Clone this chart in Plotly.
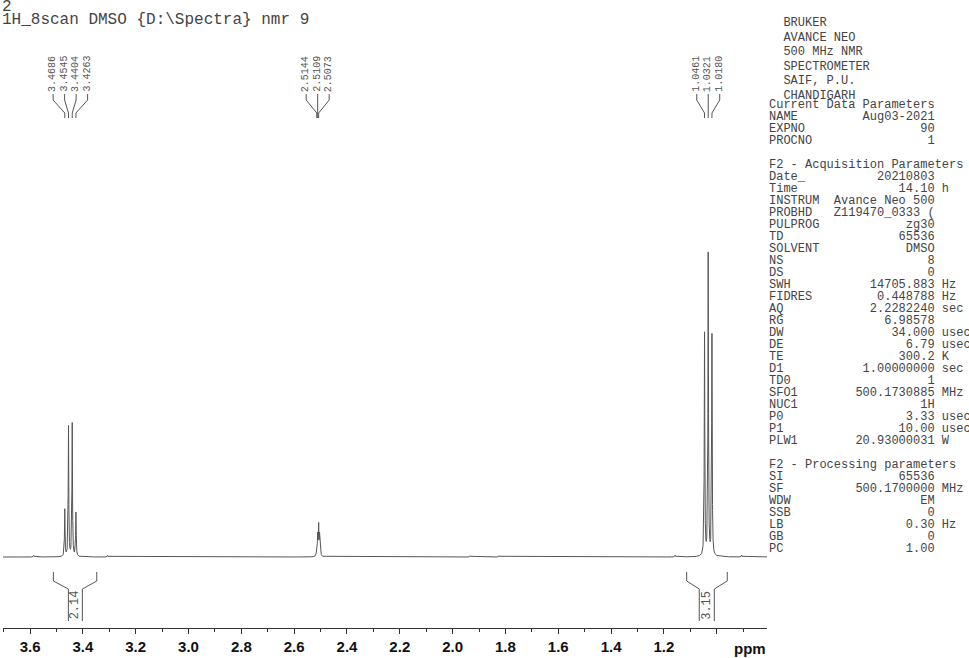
import numpy as np
import plotly.graph_objects as go

# ---------------- data ----------------
peak_ppm = [3.4686, 3.4545, 3.4404, 3.4263,
            2.5144, 2.5109, 2.5073, 2.5038, 2.5002,
            1.0461, 1.0321, 1.0180]
peak_height = [15.5, 43.1, 43.8, 14.5,
               3.3, 6.6, 9.9, 6.6, 3.3,
               73.7, 100.0, 72.7]
sat_ppm = [3.587, 3.307, 1.934, 1.824, 1.158, 0.906]
sat_height = [0.5, 0.5, 0.4, 0.4, 0.6, 0.6]
line_hwhm = 0.0012  # ppm

label_groups = [
    ["3.4686", "3.4545", "3.4404", "3.4263"],
    ["2.5144", "2.5109", "2.5073"],
    ["1.0461", "1.0321", "1.0180"],
]
integral_values = ["2.14", "3.15"]
integral_ranges = [(3.5118, 3.3475), (1.1136, 0.9600)]
integral_inner = [(3.455, 3.402), (1.066, 1.009)]

tick_vals = [3.6, 3.4, 3.2, 3.0, 2.8, 2.6, 2.4, 2.2, 2.0, 1.8, 1.6, 1.4, 1.2, 1.0]
tick_text = ["3.6", "3.4", "3.2", "3.0", "2.8", "2.6", "2.4", "2.2", "2.0", "1.8",
             "1.6", "1.4", "1.2", ""]

title_lines = ["2", "1H_8scan DMSO {D:\\Spectra} nmr 9"]
header_lines = ["BRUKER", "AVANCE NEO", "500 MHz NMR", "SPECTROMETER", "SAIF, P.U.", "CHANDIGARH"]
current_params = [("NAME", "Aug03-2021", ""), ("EXPNO", "90", ""), ("PROCNO", "1", "")]
acq_params = [
    ("Date_", "20210803", ""), ("Time", "14.10", "h"), ("INSTRUM", "Avance Neo 500", ""),
    ("PROBHD", "Z119470_0333 (", ""), ("PULPROG", "zg30", ""), ("TD", "65536", ""),
    ("SOLVENT", "DMSO", ""), ("NS", "8", ""), ("DS", "0", ""), ("SWH", "14705.883", "Hz"),
    ("FIDRES", "0.448788", "Hz"), ("AQ", "2.2282240", "sec"), ("RG", "6.98578", ""),
    ("DW", "34.000", "usec"), ("DE", "6.79", "usec"), ("TE", "300.2", "K"),
    ("D1", "1.00000000", "sec"), ("TD0", "1", ""), ("SFO1", "500.1730885", "MHz"),
    ("NUC1", "1H", ""), ("P0", "3.33", "usec"), ("P1", "10.00", "usec"),
    ("PLW1", "20.93000031", "W"),
]
proc_params = [("SI", "65536", ""), ("SF", "500.1700000", "MHz"), ("WDW", "EM", ""),
               ("SSB", "0", ""), ("LB", "0.30", "Hz"), ("GB", "0", ""), ("PC", "1.00", "")]

# ---------------- geometry ----------------
W, H = 969, 658
X0PX, X1PX = 3, 767
XR = [3.7025, 0.8095]
BASE_PX = 557
PX_PER_UNIT = 3.04


def px2ppm(px):
    return XR[0] + (px - X0PX) / (X1PX - X0PX) * (XR[1] - XR[0])


def ppm2px(p):
    return X0PX + (p - XR[0]) / (XR[1] - XR[0]) * (X1PX - X0PX)


def yp(px_y):
    return 1 - px_y / H


# ---------------- spectrum ----------------
x = np.arange(0.80, 3.71, 0.0002)
y = np.zeros_like(x)
for p, h in zip(peak_ppm + sat_ppm, peak_height + sat_height):
    y += h / (1 + ((x - p) / line_hwhm) ** 2)

fig = go.Figure()
fig.add_trace(go.Scatter(x=x, y=y, mode="lines", line=dict(color="#555555", width=1),
                         hoverinfo="skip", showlegend=False))

MONO = "Liberation Mono, Courier New, monospace"
SANS = "Liberation Sans, Arial, sans-serif"
TXT = "#444"
annotations = []
shapes = []

# title
annotations.append(dict(x=0, y=yp(7), xref="paper", yref="paper", text=title_lines[0],
                        showarrow=False, xanchor="left", yanchor="middle",
                        font=dict(family=MONO, size=16, color=TXT)))
annotations.append(dict(x=0, y=yp(20.5), xref="paper", yref="paper", text=title_lines[1],
                        showarrow=False, xanchor="left", yanchor="middle",
                        font=dict(family=MONO, size=16, color=TXT)))

# right panel
NB = "\u00a0"
PX_LEFT = 767.3


def fmt(label, value, unit):
    s = label + value.rjust(23 - len(label))
    if unit:
        s += " " + unit
    return s.replace(" ", NB)


panel = []
for i, t in enumerate(header_lines):
    panel.append((23 + 14.5 * i, NB * 2 + t))
panel.append((105, "Current Data Parameters".replace(" ", NB)))
yy = 117
for lab, val, u in current_params:
    panel.append((yy, fmt(lab, val, u)))
    yy += 12
panel.append((165, "F2 - Acquisition Parameters".replace(" ", NB)))
yy = 177
for lab, val, u in acq_params:
    panel.append((yy, fmt(lab, val, u)))
    yy += 12
panel.append((465, "F2 - Processing parameters".replace(" ", NB)))
yy = 477
for lab, val, u in proc_params:
    panel.append((yy, fmt(lab, val, u)))
    yy += 12
for ypx, t in panel:
    annotations.append(dict(x=PX_LEFT / W, y=yp(ypx), xref="paper", yref="paper", text=t,
                            showarrow=False, xanchor="left", yanchor="middle",
                            font=dict(family=MONO, size=12, color=TXT)))

# peak labels
SPACING = 11.5
for grp in label_groups:
    vals = [float(v) for v in grp]
    cpx = np.mean([ppm2px(v) for v in vals])
    n = len(grp)
    for k, lab in enumerate(grp):
        lx = cpx + (k - (n - 1) / 2) * SPACING
        annotations.append(dict(x=lx / W, y=yp(74), xref="paper", yref="paper", text=lab,
                                showarrow=False, textangle=-90, xanchor="center",
                                yanchor="middle",
                                font=dict(family=MONO, size=10, color="#555")))
        lp = px2ppm(lx)
        pv = float(lab)
        path = (f"M {lp},{yp(94)} L {lp},{yp(100)} L {pv},{yp(113)} L {pv},{yp(118)}")
        shapes.append(dict(type="path", xref="x", yref="paper", path=path,
                           line=dict(color="#555", width=1)))

# integrals
for (a, b), (ia, ib), lab in zip(integral_ranges, integral_inner, integral_values):
    p1 = f"M {a},{yp(572)} L {a},{yp(581)} L {ia},{yp(589)} L {ia},{yp(621)}"
    p2 = f"M {b},{yp(572)} L {b},{yp(581)} L {ib},{yp(589)} L {ib},{yp(621)}"
    for p in (p1, p2):
        shapes.append(dict(type="path", xref="x", yref="paper", path=p,
                           line=dict(color="#555", width=1)))
    annotations.append(dict(x=(ia + ib) / 2, y=yp(605), xref="x", yref="paper", text=lab,
                            showarrow=False, textangle=-90, xanchor="center", yanchor="middle",
                            font=dict(family=MONO, size=12, color="#555")))

annotations.append(dict(x=750 / W, y=yp(648), xref="paper", yref="paper", text="<b>ppm</b>",
                        showarrow=False, xanchor="center", yanchor="middle",
                        font=dict(family=SANS, size=15, color="#111")))

yr = [-(H - BASE_PX) / PX_PER_UNIT, BASE_PX / PX_PER_UNIT]

fig.update_layout(
    width=W, height=H, autosize=False,
    margin=dict(l=0, r=0, t=0, b=0),
    paper_bgcolor="white", plot_bgcolor="white",
    xaxis=dict(domain=[X0PX / W, X1PX / W], range=XR, anchor="free", position=yp(627.7),
               showgrid=False, zeroline=False, showline=True, linecolor="#333", linewidth=1,
               ticks="outside", ticklen=5, tickcolor="#333", tickwidth=1,
               tickvals=tick_vals, ticktext=tick_text,
               tickfont=dict(family=SANS, size=15, color="#111", weight="bold"),
               minor=dict(dtick=0.1, tick0=0, ticks="outside", ticklen=3, tickcolor="#333",
                          showgrid=False)),
    yaxis=dict(domain=[0, 1], range=yr, visible=False, showgrid=False, zeroline=False),
    annotations=annotations, shapes=shapes, showlegend=False,
)

fig.write_html("out.html", config={"displayModeBar": False},
               post_script="document.body.style.margin='0px';document.body.style.overflow='hidden';")
